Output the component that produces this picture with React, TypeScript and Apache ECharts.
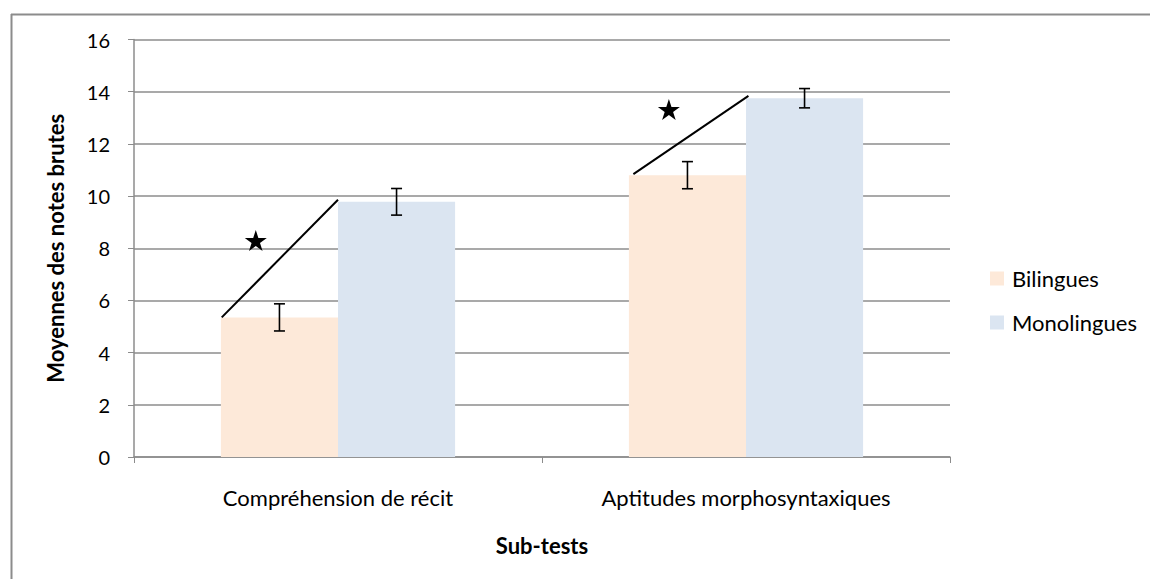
import React, { useEffect, useRef } from "react";
import * as echarts from "echarts";

const categories = ["Compréhension de récit", "Aptitudes morphosyntaxiques"];
const bilingues = [5.35, 10.8];
const monolingues = [9.78, 13.75];
const bilinguesErr = [0.52, 0.52];
const monolinguesErr = [0.51, 0.37];
// significance lines on a hidden 0..2 value x-axis spanning the two categories
const signifLineComp = [[0.215, 5.35], [0.5, 9.86]];
const signifLineMorph = [[1.224, 10.84], [1.506, 13.84]];
const stars = [[0.2985, 8.3], [1.311, 13.32]];
const yTicks = { min: 0, max: 16, interval: 2 };

const FONT = "Lato";
const STAR = "path://M50,0 L61.2,34.5 L97.6,34.5 L68.2,55.9 L79.4,90.5 L50,69.1 L20.6,90.5 L31.8,55.9 L2.4,34.5 L38.8,34.5 Z";
const GROUP_FRAC = 0.574;

function errRender(sign: number) {
  return (params: any, api: any) => {
    const cat = api.value(0);
    const mean = api.value(1);
    const err = api.value(2);
    const band = api.size([1, 0])[0];
    const off = (band * GROUP_FRAC) / 4 * sign;
    const top = api.coord([cat, mean + err]);
    const bot = api.coord([cat, mean - err]);
    const x = top[0] + off;
    const hw = 5.5;
    const st = { stroke: "#000", lineWidth: 1.6 };
    return {
      type: "group",
      children: [
        { type: "line", shape: { x1: x, y1: top[1], x2: x, y2: bot[1] }, style: st },
        { type: "line", shape: { x1: x - hw, y1: top[1], x2: x + hw, y2: top[1] }, style: st },
        { type: "line", shape: { x1: x - hw, y1: bot[1], x2: x + hw, y2: bot[1] }, style: st },
      ],
    };
  };
}

export default function App() {
  const ref = useRef<HTMLDivElement>(null);
  useEffect(() => {
    if (!ref.current) return;
    const chart = echarts.init(ref.current, null, { renderer: "svg" });
    chart.setOption({
      animation: false,
      backgroundColor: "#fff",
      textStyle: { fontFamily: FONT },
      grid: { left: 134, right: 200, top: 39.5, bottom: 122 },
      legend: {
        data: ["Bilingues", "Monolingues"],
        orient: "vertical",
        left: 990,
        top: 267.5,
        padding: 0,
        itemWidth: 14,
        itemHeight: 14,
        itemGap: 22,
        icon: "rect",
        textStyle: { fontFamily: FONT, fontSize: 22, color: "#000", padding: [0, 0, 0, 3] },
      },
      xAxis: [
        {
          type: "category",
          data: categories,
          axisLine: { lineStyle: { color: "#8c8c8c", width: 1.5 } },
          axisTick: { show: true, length: 6, lineStyle: { color: "#8c8c8c" } },
          axisLabel: { margin: 29, fontSize: 22, color: "#000", fontFamily: FONT },
          name: "Sub-tests",
          nameLocation: "middle",
          nameGap: 77,
          nameTextStyle: { fontSize: 22, fontWeight: "bold", color: "#000", fontFamily: FONT },
        },
        { type: "value", min: 0, max: 2, show: false },
      ],
      yAxis: {
        type: "value",
        min: yTicks.min,
        max: yTicks.max,
        interval: yTicks.interval,
        axisLine: { show: true, lineStyle: { color: "#8c8c8c", width: 1.5 } },
        axisTick: { show: true, length: 6, lineStyle: { color: "#8c8c8c" } },
        splitLine: { lineStyle: { color: "#8c8c8c", width: 1.5 } },
        axisLabel: { margin: 24, fontSize: 20, color: "#000", fontFamily: FONT },
        name: "Moyennes des notes brutes",
        nameLocation: "middle",
        nameGap: 68,
        nameTextStyle: { fontSize: 22, fontWeight: "bold", color: "#000", fontFamily: FONT },
      },
      series: [
        {
          name: "Bilingues",
          type: "bar",
          data: bilingues,
          barGap: "0%",
          barCategoryGap: "42.6%",
          itemStyle: { color: "#FDE9D9" },
        },
        {
          name: "Monolingues",
          type: "bar",
          data: monolingues,
          barGap: "0%",
          barCategoryGap: "42.6%",
          itemStyle: { color: "#DBE5F1" },
        },
        {
          type: "custom",
          renderItem: errRender(-1),
          data: bilingues.map((v, i) => [i, v, bilinguesErr[i]]),
          encode: { x: 0, y: 1 },
          z: 5,
        },
        {
          type: "custom",
          renderItem: errRender(1),
          data: monolingues.map((v, i) => [i, v, monolinguesErr[i]]),
          encode: { x: 0, y: 1 },
          z: 5,
        },
        {
          type: "line",
          xAxisIndex: 1,
          data: signifLineComp,
          symbol: "none",
          lineStyle: { color: "#000", width: 2 },
          z: 6,
        },
        {
          type: "line",
          xAxisIndex: 1,
          data: signifLineMorph,
          symbol: "none",
          lineStyle: { color: "#000", width: 2 },
          z: 6,
        },
        {
          type: "scatter",
          xAxisIndex: 1,
          data: stars,
          symbol: STAR,
          symbolSize: [22, 21],
          itemStyle: { color: "#000", opacity: 1 },
          z: 6,
        },
      ],
      graphic: [
        { type: "line", shape: { x1: 11, y1: 14.5, x2: 1150, y2: 14.5 }, style: { stroke: "#8c8c8c", lineWidth: 2 } },
        { type: "line", shape: { x1: 11.5, y1: 14, x2: 11.5, y2: 579 }, style: { stroke: "#8c8c8c", lineWidth: 2 } },
      ],
    });
    return () => chart.dispose();
  }, []);
  return (
    <div
      ref={ref}
      style={{ position: "fixed", left: 0, top: 0, width: 1150, height: 579 }}
    />
  );
}
